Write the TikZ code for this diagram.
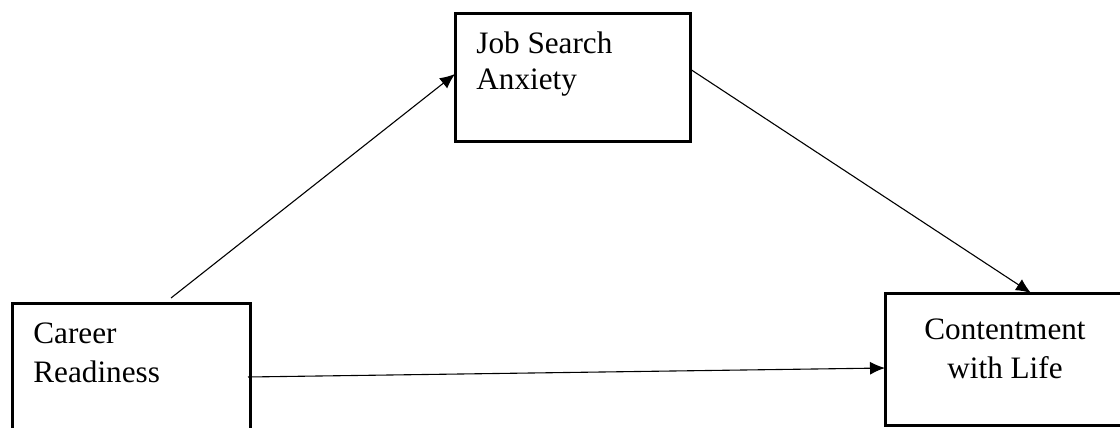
\documentclass[tikz,border=0pt]{standalone}
\usepackage{fontspec}
\setmainfont{Liberation Serif}
\usetikzlibrary{arrows.meta,calc}

\begin{document}
\begin{tikzpicture}[x=0.5pt,y=-0.5pt,
    varbox/.style={draw,line width=1.5pt,inner sep=0pt,outer sep=0pt},
    vartext/.style={inner sep=0pt,align=left,font=\fontsize{15.6pt}{19.5pt}\selectfont},
    link/.style={line width=0.55pt,-{Latex[length=7.5pt,width=6.5pt]}}]
  	% page, pixel grid with y going down
    \clip (0,0) rectangle (1120,428);
    \fill[white] (0,0) rectangle (1120,428);
  	\node[varbox,minimum width=119pt,minimum height=73.5pt] (career) at (131,376.5) {};% cut at the bottom
  	\node[varbox,minimum width=117.5pt,minimum height=64pt] (job) at (572.5,77) {};
  	\node[varbox,minimum width=120pt,minimum height=66pt] (content) at (1005,359) {};% cut at the right
    % base anchor sits on the last line
    \node[vartext,anchor=base west] (careertext) at ($(career.north west)+(21,79)$) {Career\\Readiness};
    \node[vartext,anchor=base west,font=\fontsize{15.6pt}{18pt}\selectfont] (jobtext) at ($(job.north west)+(21,77)$) {Job Search\\Anxiety};
    \node[vartext,align=center,anchor=base] (contenttext) at ($(content.north)+(0,85)$) {Contentment\\with Life};
    \coordinate (careerout) at ($(career.north)+(40,-5)$);% starts just above the box
  	\draw[link] (careerout) -- ($(job.west)+(0,-3)$);
  	\draw[link] ($(job.east)+(0,-8)$) -- ($(content.north)+(26,0)$);
  	\draw[link] ($(career.east)+(-2,0.5)$) -- ($(content.west)+(0,9)$);
  \end{tikzpicture}
\end{document}
